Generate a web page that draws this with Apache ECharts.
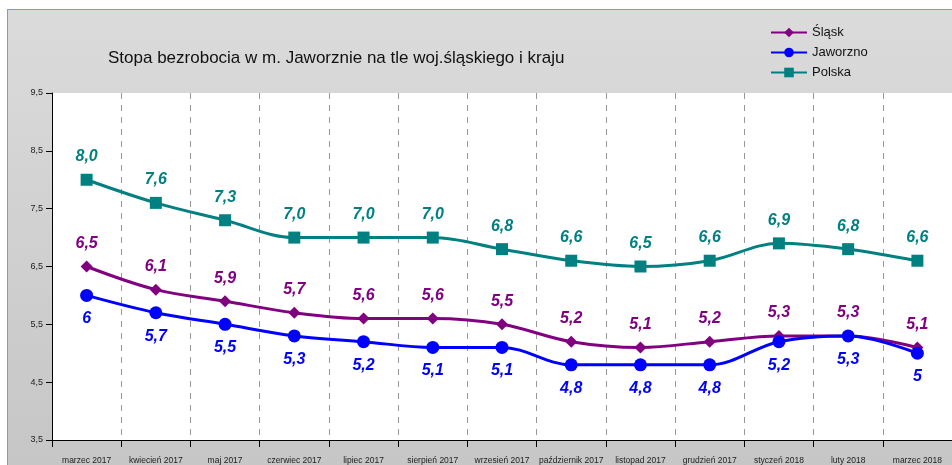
<!DOCTYPE html>
<html>
<head>
<meta charset="utf-8">
<script src="https://cdn.jsdelivr.net/npm/echarts@6/dist/echarts.min.js"></script>
<style>
    html, body { margin: 0; padding: 0; background: #fff; }
    #frame {
        position: absolute; left: 7px; top: 9px; width: 945px; height: 456px;
        border-left: 1px solid #7f9cc8; border-top: 1px solid #7f9cc8;
        background: linear-gradient(#dbdbdb, #c6c6c6);
    }
    #main { position: absolute; left: 0; top: 0; width: 952px; height: 465px; }
</style>
</head>
<body>
<div id="frame"></div>
<div id="main"></div>
<script>
var months = ['marzec 2017', 'kwiecień 2017', 'maj 2017', 'czerwiec 2017', 'lipiec 2017', 'sierpień 2017',
    'wrzesień 2017', 'październik 2017', 'listopad 2017', 'grudzień 2017', 'styczeń 2018', 'luty 2018', 'marzec 2018'];
var slask = [6.5, 6.1, 5.9, 5.7, 5.6, 5.6, 5.5, 5.2, 5.1, 5.2, 5.3, 5.3, 5.1];
var jaworzno = [6, 5.7, 5.5, 5.3, 5.2, 5.1, 5.1, 4.8, 4.8, 4.8, 5.2, 5.3, 5];
var polska = [8.0, 7.6, 7.3, 7.0, 7.0, 7.0, 6.8, 6.6, 6.5, 6.6, 6.9, 6.8, 6.6];
var yTicks = [3.5, 4.5, 5.5, 6.5, 7.5, 8.5, 9.5];

var chart = echarts.init(document.getElementById('main'));

function comma(v, fixed) {
    return (fixed ? v.toFixed(1) : String(v)).replace('.', ',');
}

function labelStyle(color, pos, dist) {
    return {
        show: true,
        position: pos,
        distance: dist,
        color: color,
        fontFamily: 'Liberation Sans',
        fontSize: 16,
        fontWeight: 'bold',
        fontStyle: 'italic'
    };
}

var option = {
    animation: false,
    backgroundColor: 'transparent',
    title: {
        text: 'Stopa bezrobocia w m. Jaworznie na tle woj.śląskiego i kraju',
        left: 103,
        top: 45,
        textStyle: { fontFamily: 'Liberation Sans', fontSize: 17, fontWeight: 'normal', color: '#111' }
    },
    legend: {
        orient: 'vertical',
        left: 765,
        top: 21,
        itemWidth: 36,
        itemHeight: 12,
        itemGap: 7,
        textStyle: { fontFamily: 'Liberation Sans', fontSize: 13, color: '#111' },
        data: ['Śląsk', 'Jaworzno', 'Polska']
    },
    grid: { left: 52, top: 93, width: 910, height: 347, backgroundColor: '#fff', show: true, borderWidth: 0 },
    xAxis: {
        type: 'category',
        data: months,
        boundaryGap: true,
        axisLine: { lineStyle: { color: '#000', width: 1 } },
        axisTick: { show: true, length: 7, interval: 0, lineStyle: { color: '#000' } },
        axisLabel: { interval: 0, margin: 16, fontFamily: 'Liberation Sans', fontSize: 8.5, color: '#222' },
        splitLine: { show: true, interval: 0, lineStyle: { color: '#999', type: [6, 6], width: 1 } }
    },
    yAxis: {
        type: 'value',
        min: 3.5,
        max: 9.5,
        axisLine: { show: true, lineStyle: { color: '#000', width: 1 } },
        axisTick: { show: true, length: 6, customValues: yTicks, lineStyle: { color: '#000' } },
        axisLabel: {
            customValues: yTicks,
            margin: 9,
            fontFamily: 'Liberation Sans',
            fontSize: 9,
            color: '#222',
            formatter: function (v) { return comma(v, true); }
        },
        splitLine: { show: false }
    },
    series: [{
        name: 'Śląsk',
        type: 'line',
        data: slask,
        smooth: 0.35,
        symbol: 'diamond',
        symbolSize: 12,
        itemStyle: { color: '#800080' },
        lineStyle: { color: '#800080', width: 3 },
        label: Object.assign(labelStyle('#800080', 'top', 9), {
            formatter: function (p) { return comma(p.value, true); }
        })
    }, {
        name: 'Jaworzno',
        type: 'line',
        data: jaworzno,
        smooth: 0.35,
        symbol: 'circle',
        symbolSize: 13,
        itemStyle: { color: '#0000ff' },
        lineStyle: { color: '#0000ff', width: 3 },
        label: Object.assign(labelStyle('#0000ff', 'bottom', 9), {
            formatter: function (p) { return comma(p.value, false); }
        })
    }, {
        name: 'Polska',
        type: 'line',
        data: polska,
        smooth: 0.35,
        symbol: 'rect',
        symbolSize: 12,
        itemStyle: { color: '#008080' },
        lineStyle: { color: '#008080', width: 3 },
        label: Object.assign(labelStyle('#008080', 'top', 9), {
            formatter: function (p) { return comma(p.value, true); }
        })
    }]
};
chart.setOption(option);
</script>
</body>
</html>
